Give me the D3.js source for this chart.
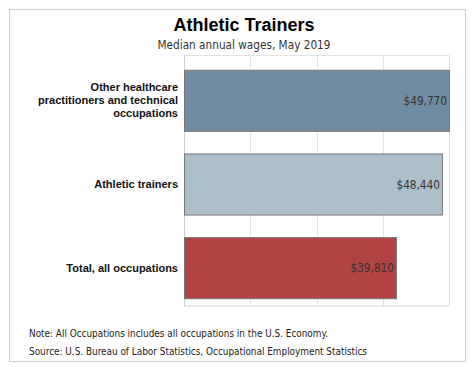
<!DOCTYPE html>
<html><head><meta charset="utf-8">
<script src="https://cdn.jsdelivr.net/npm/d3@7"></script>
<style>body{margin:0;background:#fff;} svg{display:block;}</style>
</head><body>
<script>
const categories = [["Other healthcare","practitioners and technical","occupations"],["Athletic trainers"],["Total, all occupations"]];
const values = [49770, 48440, 39810];
const valueLabels = ["$49,770", "$48,440", "$39,810"];
const colors = ["#6f8ca3", "#adbfcb", "#b34343"];
const title = "Athletic Trainers";
const subtitle = "Median annual wages, May 2019";
const notes = ["Note: All Occupations includes all occupations in the U.S. Economy.", "Source: U.S. Bureau of Labor Statistics, Occupational Employment Statistics"];

const W = 472, H = 367;
const svg = d3.select("body").append("svg").attr("width", W).attr("height", H);
svg.append("rect").attr("x", 9.5).attr("y", 9.5).attr("width", 456).attr("height", 352)
  .attr("fill", "#fff").attr("stroke", "#cccccc");

const plot = {l: 184, r: 449, t: 55.5, b: 306};
const x = d3.scaleLinear().domain([0, d3.max(values)]).range([plot.l, plot.r]);
const y = d3.scaleBand().domain(d3.range(values.length)).range([plot.t + 3, plot.b + 3.5]).paddingInner(0.27).paddingOuter(0.135);

// grid
const ticks = d3.range(0, 5).map(i => d3.max(values) * i / 4);
svg.append("g").selectAll("line").data(ticks).join("line")
  .attr("x1", d => Math.round(x(d)) + 0.5).attr("x2", d => Math.round(x(d)) + 0.5)
  .attr("y1", plot.t).attr("y2", plot.b).attr("stroke", "#e3e3e3");
svg.append("line").attr("x1", plot.l).attr("x2", plot.r).attr("y1", plot.t).attr("y2", plot.t).attr("stroke", "#e3e3e3");
svg.append("line").attr("x1", plot.l).attr("x2", plot.r).attr("y1", plot.b).attr("y2", plot.b).attr("stroke", "#d6d6d6");
svg.append("line").attr("x1", plot.l + 0.5).attr("x2", plot.l + 0.5).attr("y1", plot.t).attr("y2", plot.b).attr("stroke", "#d0d0d0");

// bars
svg.append("g").selectAll("rect").data(values).join("rect")
  .attr("x", plot.l + 0.5).attr("y", (d, i) => y(i) + 0.5)
  .attr("width", d => x(d) - plot.l).attr("height", y.bandwidth())
  .attr("fill", (d, i) => colors[i]).attr("stroke", "#777").attr("stroke-width", 1);

// value labels
svg.append("g").selectAll("text").data(values).join("text")
  .attr("x", d => x(d) - 2).attr("y", (d, i) => y(i) + y.bandwidth() / 2 + 4.5)
  .attr("text-anchor", "end").attr("font-family", "DejaVu Sans Condensed, DejaVu Sans").attr("font-stretch", "condensed").attr("font-size", "11.7px")
  .attr("fill", "#333").text((d, i) => valueLabels[i]);

// category labels
categories.forEach((lines, i) => {
  const cy = y(i) + y.bandwidth() / 2;
  const lh = 13;
  const t = svg.append("text").attr("text-anchor", "end").attr("font-family", "Liberation Sans, Arial")
    .attr("font-weight", "bold").attr("font-size", "11px").attr("fill", "#111");
  lines.forEach((ln, j) => {
    t.append("tspan").attr("x", 178).attr("y", cy + 4 + (j - (lines.length - 1) / 2) * lh).text(ln);
  });
});

svg.append("text").attr("x", 244).attr("y", 31).attr("text-anchor", "middle")
  .attr("font-family", "Liberation Sans, Arial").attr("font-weight", "bold").attr("font-size", "18px")
  .attr("fill", "#000").text(title);
svg.append("text").attr("x", 244).attr("y", 49).attr("text-anchor", "middle")
  .attr("font-family", "DejaVu Sans Condensed, DejaVu Sans").attr("font-stretch", "condensed").attr("font-size", "11.7px").attr("fill", "#333").text(subtitle);

notes.forEach((n, i) => {
  svg.append("text").attr("x", 29).attr("y", 337 + i * 18)
    .attr("font-family", "DejaVu Sans Condensed, DejaVu Sans").attr("font-stretch", "condensed").attr("font-size", "9.9px").attr("fill", "#222").text(n);
});
</script>
</body></html>
